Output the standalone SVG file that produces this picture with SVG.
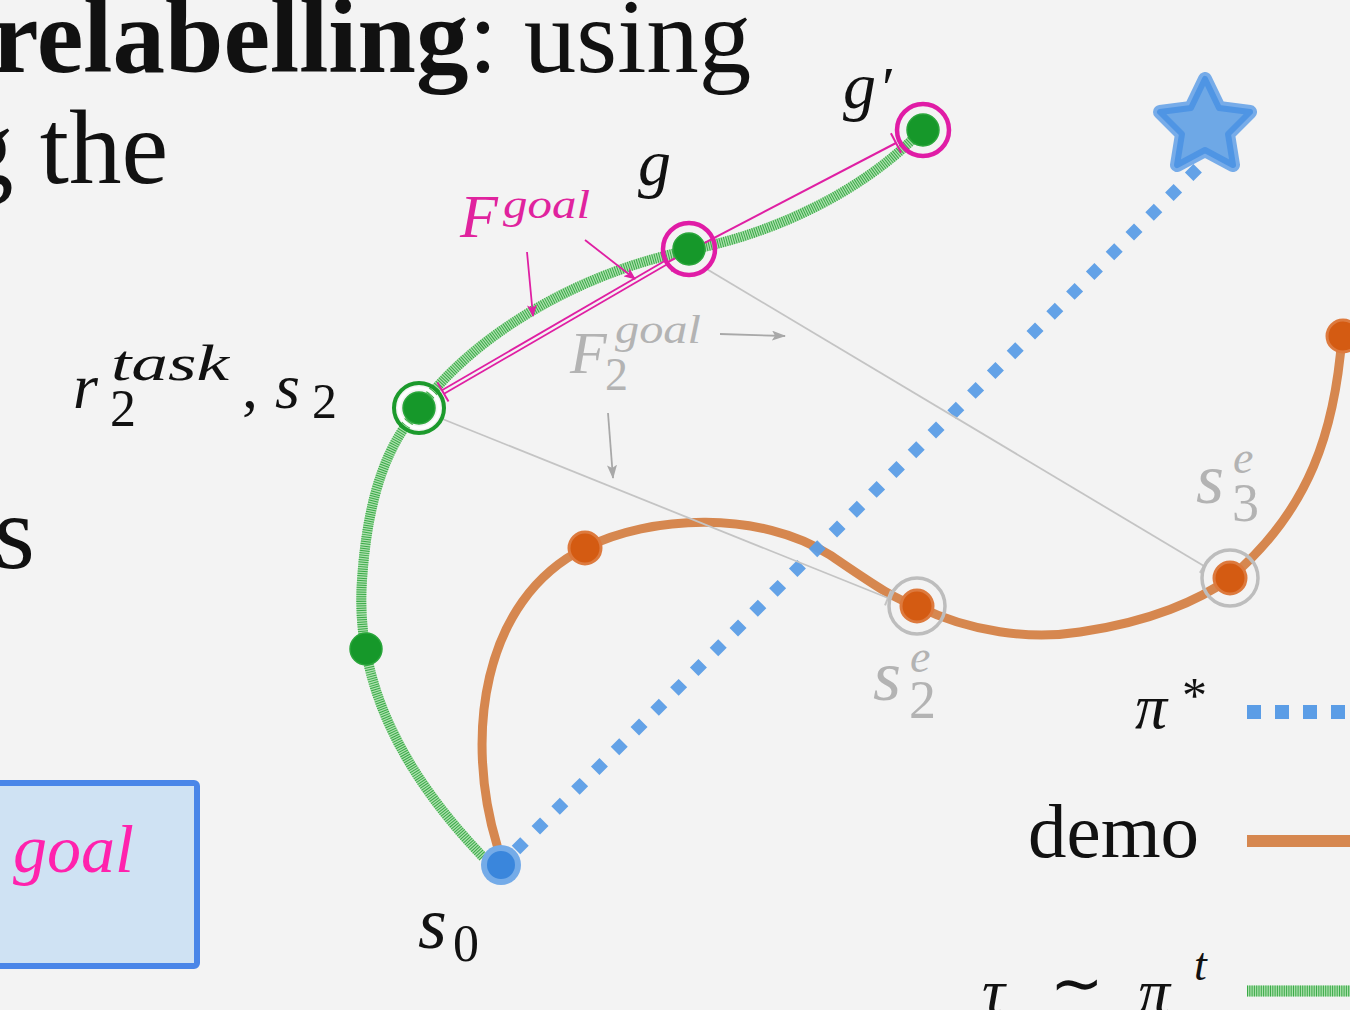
<svg xmlns="http://www.w3.org/2000/svg" width="1350" height="1010" viewBox="0 0 1350 1010">
<defs>
<style>
.ser{font-family:"Liberation Serif","Times New Roman",serif;fill:#111}
.it{font-family:"Liberation Serif","Times New Roman",serif;font-style:italic;fill:#111}
.gr{fill:#b3b3b3}
.mg{fill:#e0239e}
.gbase{fill:none;stroke:#ace0ad;stroke-width:10;stroke-linecap:butt}
.ghatch{fill:none;stroke:#3aa948;stroke-width:10;stroke-dasharray:1 1.3}
.demo{fill:none;stroke:#d6874f;stroke-width:9;stroke-linecap:round}
.opt{fill:none;stroke:#5b9de6;stroke-width:12;stroke-dasharray:12 16}
.gline{fill:none;stroke:#c4c4c4;stroke-width:1.8}
.garrow{fill:none;stroke:#a8a8a8;stroke-width:1.8}
.marrow{fill:none;stroke:#df1fa3;stroke-width:1.8}
.gdot{fill:#16982a;stroke:#2aa63b;stroke-width:1.5}
.odot{fill:#d45b12;stroke:#dd7a3e;stroke-width:3}
.mring{fill:none;stroke:#e01ca6;stroke-width:4.5}
.grring{fill:none;stroke:#bdbdbd;stroke-width:3.5}
</style>
<marker id="mh" viewBox="0 0 12 10" refX="11" refY="5" markerWidth="12" markerHeight="10" markerUnits="userSpaceOnUse" orient="auto">
<path d="M0,0 L12,5 L0,10 L3,5 Z" fill="#df1fa3"/>
</marker>
<marker id="gh" viewBox="0 0 14 10" refX="13" refY="5" markerWidth="14" markerHeight="10" markerUnits="userSpaceOnUse" orient="auto">
<path d="M0,0 L14,5 L0,10 L3,5 Z" fill="#a8a8a8"/>
</marker>
<marker id="mtick" viewBox="-2 -12 4 24" refX="0" refY="0" markerWidth="4" markerHeight="24" markerUnits="userSpaceOnUse" orient="auto">
<path d="M0,-11 L0,11" stroke="#df1fa3" stroke-width="2"/>
</marker>
<marker id="gtick" viewBox="-2 -9 4 18" refX="0" refY="0" markerWidth="4" markerHeight="18" markerUnits="userSpaceOnUse" orient="auto">
<path d="M0,-8 L0,8" stroke="#c4c4c4" stroke-width="2"/>
</marker>
</defs>
<rect x="0" y="0" width="1350" height="1010" fill="#f3f3f3"/>

<g id="slide-text">
<text class="ser" x="-8" y="72" font-size="105"><tspan font-weight="bold">relabelling</tspan>: using</text>
<text class="ser" x="-39" y="183" font-size="105">g the</text>
<text class="ser" x="-6" y="568" font-size="105">s</text>
</g>

<g id="box">
<rect x="-10" y="783" width="207" height="183" rx="3" fill="#cfe2f3" stroke="#4a86e8" stroke-width="6"/>
<text class="it" x="13" y="872" font-size="68" style="fill:#ff22ad">goal</text>
</g>

<g id="connectors">
<path class="gbase" d="M483,857 C400,770 355,680 362,580 C368,490 390,440 420,408 C470,340 570,275 690,250 C780,232 860,190 912,140"/>
<path class="ghatch" d="M483,857 C400,770 355,680 362,580 C368,490 390,440 420,408 C470,340 570,275 690,250 C780,232 860,190 912,140"/>
<path class="demo" d="M497,845 C465,740 480,600 585,548 C650,515 760,510 830,555 C870,582 895,600 917,606 C970,632 1030,640 1080,632 C1150,622 1200,600 1230,578 C1310,510 1335,430 1342,336"/>
<path class="opt" d="M516,850 L1208,158" opacity="0.95"/>
<path class="gline" d="M440,418 L888,598" marker-end="url(#gtick)"/>
<path class="gline" d="M705,268 L1204,566" marker-end="url(#gtick)"/>
<path d="M667,262 L443,392" fill="none" stroke="#df1fa3" stroke-width="6"/>
<path d="M667,262 L443,392" fill="none" stroke="#f3f3f3" stroke-width="2.4"/>
<path d="M667,262 L443,392" fill="none" stroke="none" marker-start="url(#mtick)" marker-end="url(#mtick)"/>
<path d="M668,262 L896,143" fill="none" stroke="#df1fa3" stroke-width="2" marker-end="url(#mtick)"/>
<path class="marrow" d="M527,252 L533,316" marker-end="url(#mh)"/>
<path class="marrow" d="M585,240 L635,279" marker-end="url(#mh)"/>
<path class="garrow" d="M720,334 L785,336" marker-end="url(#gh)"/>
<path class="garrow" d="M608,413 L613,478" marker-end="url(#gh)"/>
</g>

<g id="star">
<polygon points="1205,79 1219,108 1250,112 1228,134 1233,165 1205,150 1177,165 1182,134 1160,112 1191,108" fill="#6ea8e6" stroke="#6aa5e8" stroke-width="14" stroke-linejoin="round" opacity="0.9"/>
<polygon points="1205,79 1219,108 1250,112 1228,134 1233,165 1205,150 1177,165 1182,134 1160,112 1191,108" fill="#6ea8e6" stroke="#4f95e4" stroke-width="6" stroke-linejoin="round"/>
</g>

<g id="s0">
<circle cx="501" cy="865" r="20" fill="#74abe8"/>
<circle cx="501" cy="865" r="14" fill="#3a86dc"/>
<text class="it" x="418" y="948" font-size="74">s</text>
<text class="ser" x="453" y="961" font-size="52">0</text>
</g>

<g id="tau-mid">
<circle class="gdot" cx="366" cy="649" r="16"/>
</g>

<g id="s2">
<circle cx="419" cy="408" r="25" fill="none" stroke="#1c9a2c" stroke-width="4"/>
<circle cx="419" cy="408" r="20" fill="none" stroke="#ffffff" stroke-width="3"/>
<circle class="gdot" cx="419" cy="408" r="16"/>
<text class="it" x="73" y="408" font-size="64">r</text>
<text class="it" x="111" y="380" font-size="50" textLength="118" lengthAdjust="spacingAndGlyphs">task</text>
<text class="ser" x="110" y="426" font-size="52">2</text>
<text class="ser" x="242" y="408" font-size="64">,</text>
<text class="it" x="275" y="408" font-size="64">s</text>
<text class="ser" x="312" y="418" font-size="50">2</text>
</g>

<g id="g">
<circle class="gdot" cx="689" cy="249" r="16"/>
<circle class="mring" cx="689" cy="249" r="26"/>
<text class="it" x="638" y="185" font-size="66">g</text>
</g>

<g id="gprime">
<circle class="gdot" cx="923" cy="130" r="16"/>
<circle class="mring" cx="923" cy="130" r="26"/>
<text class="it" x="843" y="108" font-size="66">g</text>
<text class="ser" x="882" y="108" font-size="60">′</text>
</g>

<g id="fgoal">
<text class="it" x="460" y="237" font-size="62" style="fill:#e0239e">F</text>
<text class="it" x="503" y="218" font-size="40" textLength="87" lengthAdjust="spacingAndGlyphs" style="fill:#e0239e">goal</text>
</g>

<g id="f2goal">
<text class="it" x="570" y="373" font-size="60" style="fill:#b3b3b3">F</text>
<text class="it" x="615" y="343" font-size="40" textLength="86" lengthAdjust="spacingAndGlyphs" style="fill:#b3b3b3">goal</text>
<text class="ser" x="605" y="390" font-size="46" style="fill:#b3b3b3">2</text>
</g>

<g id="demo-dots">
<circle class="odot" cx="585" cy="548" r="16"/>
<circle class="odot" cx="1343" cy="336" r="16"/>
</g>

<g id="s2e">
<circle class="odot" cx="917" cy="606" r="16"/>
<circle class="grring" cx="917" cy="606" r="28"/>
<text class="it" x="873" y="700" font-size="72" style="fill:#b3b3b3">s</text>
<text class="it" x="910" y="672" font-size="46" style="fill:#b3b3b3">e</text>
<text class="ser" x="909" y="718" font-size="54" style="fill:#b3b3b3">2</text>
</g>

<g id="s3e">
<circle class="odot" cx="1230" cy="578" r="16"/>
<circle class="grring" cx="1230" cy="578" r="28"/>
<text class="it" x="1196" y="503" font-size="72" style="fill:#b3b3b3">s</text>
<text class="it" x="1233" y="473" font-size="46" style="fill:#b3b3b3">e</text>
<text class="ser" x="1232" y="521" font-size="54" style="fill:#b3b3b3">3</text>
</g>

<g id="legend">
<text class="it" x="1135" y="728" font-size="64">π</text>
<text class="ser" x="1182" y="712" font-size="50">*</text>
<path d="M1247,712 L1350,712" fill="none" stroke="#5b9de6" stroke-width="14" stroke-dasharray="14 14"/>
<text class="ser" x="1028" y="857" font-size="77">demo</text>
<path d="M1247,841 L1350,841" fill="none" stroke="#d6874f" stroke-width="12"/>
<text class="it" x="982" y="1013" font-size="64">τ</text>
<text class="ser" x="1050" y="1005" font-size="64">∼</text>
<text class="it" x="1138" y="1013" font-size="64">π</text>
<text class="it" x="1194" y="980" font-size="46">t</text>
<path class="gbase" d="M1247,991 L1350,991" style="stroke-width:11"/>
<path class="ghatch" d="M1247,991 L1350,991" style="stroke-width:11"/>
</g>
</svg>
